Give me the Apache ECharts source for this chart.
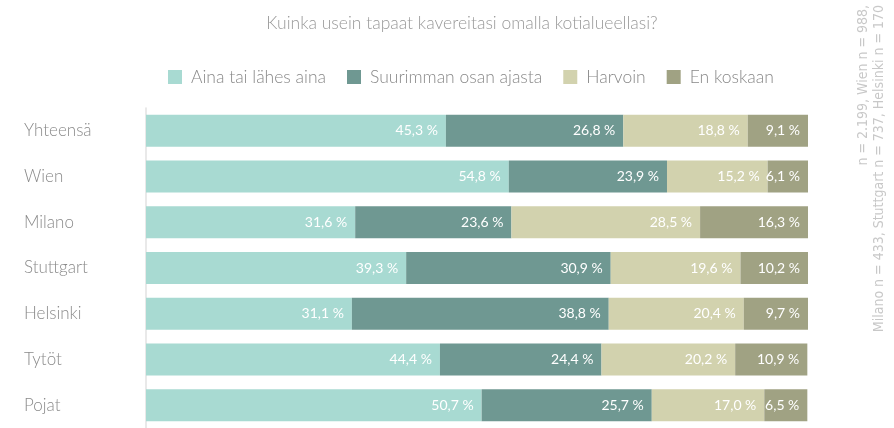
<!DOCTYPE html>
<html>
<head>
<meta charset="utf-8">
<script src="https://cdn.jsdelivr.net/npm/echarts@6/dist/echarts.min.js"></script>
<style>
  html, body { margin: 0; padding: 0; background: #fff; }
  #chart { width: 894px; height: 428px; }
</style>
</head>
<body>
<div id="chart"></div>
<script>
const categories = ['Yhteensä', 'Wien', 'Milano', 'Stuttgart', 'Helsinki', 'Tytöt', 'Pojat'];
const seriesNames = ['Aina tai lähes aina', 'Suurimman osan ajasta', 'Harvoin', 'En koskaan'];
const ainaValues = [45.3, 54.8, 31.6, 39.3, 31.1, 44.4, 50.7];
const suurimmanValues = [26.8, 23.9, 23.6, 30.9, 38.8, 24.4, 25.7];
const harvoinValues = [18.8, 15.2, 28.5, 19.6, 20.4, 20.2, 17.0];
const enKoskaanValues = [9.1, 6.1, 16.3, 10.2, 9.7, 10.9, 6.5];
const colors = ['#a8dad2', '#6f9892', '#d2d2ae', '#a0a283'];

const font = 'Lato, "Open Sans", sans-serif';
const chart = echarts.init(document.getElementById('chart'));

const makeSeries = (name, data, color) => ({
  name,
  type: 'bar',
  stack: 'total',
  data,
  barWidth: 32,
  itemStyle: { color },
  label: {
    show: true,
    position: 'insideRight',
    distance: 8,
    color: '#fff',
    fontFamily: font,
    fontSize: 14,
    formatter: p => p.value.toFixed(1).replace('.', ',') + ' %'
  },
  emphasis: { disabled: true }
});

chart.setOption({
  animation: false,
  color: colors,
  title: {
    text: 'Kuinka usein tapaat kavereitasi omalla kotialueellasi?',
    left: 457,
    textAlign: 'center',
    top: 9,
    textStyle: { color: '#999', fontSize: 17.5, fontWeight: 300, fontFamily: font }
  },
  legend: {
    top: 63,
    left: 163,
    icon: 'rect',
    itemWidth: 14,
    itemHeight: 14,
    itemGap: 21,
    textStyle: { color: '#888', fontSize: 17.5, fontWeight: 300, fontFamily: font, padding: [0, 0, 0, 4] }
  },
  grid: { left: 146, right: 86, top: 108, height: 322 },
  xAxis: { type: 'value', min: 0, max: 100, show: false },
  yAxis: {
    type: 'category',
    data: categories,
    inverse: true,
    axisLine: { show: true, lineStyle: { color: '#e2e2e2', width: 1.5 } },
    axisTick: { show: false },
    axisLabel: {
      align: 'left',
      margin: 122,
      color: '#8a8a8a',
      fontSize: 17,
      fontWeight: 300,
      fontFamily: font
    }
  },
  series: [
    makeSeries(seriesNames[0], ainaValues, colors[0]),
    makeSeries(seriesNames[1], suurimmanValues, colors[1]),
    makeSeries(seriesNames[2], harvoinValues, colors[2]),
    makeSeries(seriesNames[3], enKoskaanValues, colors[3])
  ],
  graphic: [{
    type: 'text',
    x: 855,
    y: 5,
    rotation: Math.PI / 2,
    style: {
      text: 'n = 2.199, Wien n = 988,\nMilano n = 433, Stuttgart n = 737, Helsinki n = 170',
      align: 'right',
      verticalAlign: 'top',
      fill: '#c8c8c8',
      fontSize: 14,
      lineHeight: 16,
      fontFamily: '"Liberation Sans Narrow", "DejaVu Sans Condensed", sans-serif'
    }
  }]
});
</script>
</body>
</html>
